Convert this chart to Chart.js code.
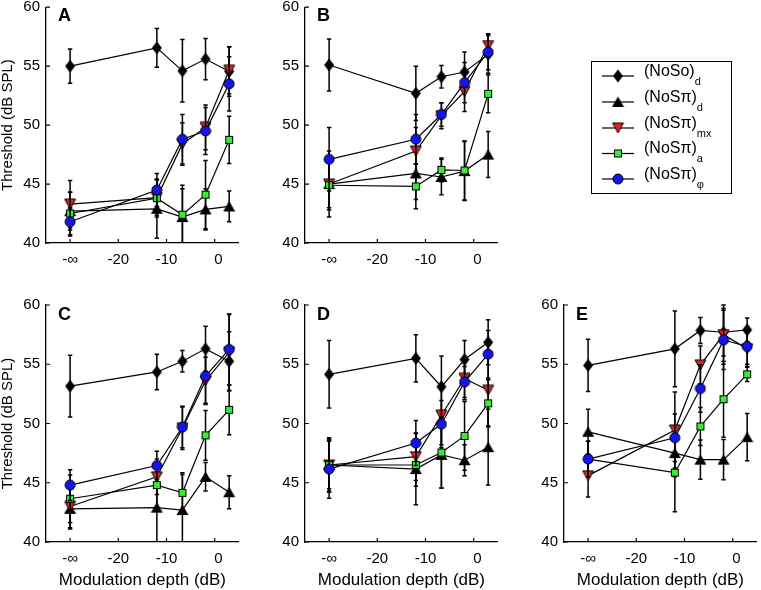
<!DOCTYPE html>
<html>
<head>
<meta charset="utf-8">
<script src="https://cdn.jsdelivr.net/npm/chart.js"></script>
<style>
html, body { margin:0; padding:0; background:#fff; width:761px; height:590px; overflow:hidden; }
body { position:relative; font-family:"Liberation Sans", Arial, Helvetica, sans-serif; }
canvas.panel { position:absolute; }
#legend { position:absolute; left:591px; top:61px; width:139px; height:131px; border:1px solid #000; box-sizing:content-box; }
#legendSym { position:absolute; left:0; top:0; }
.lt { position:absolute; left:52px; font-size:16px; line-height:16px; white-space:nowrap; color:#000; }
.lt sub { font-size:11px; vertical-align:-9px; line-height:0; }
</style>
</head>
<body>
<canvas id="pA" class="panel" width="246" height="290" style="left:0px;top:0px"></canvas>
<canvas id="pB" class="panel" width="246" height="290" style="left:259px;top:0px"></canvas>
<canvas id="pC" class="panel" width="246" height="300" style="left:0px;top:290px"></canvas>
<canvas id="pD" class="panel" width="246" height="300" style="left:259px;top:290px"></canvas>
<canvas id="pE" class="panel" width="246" height="300" style="left:518px;top:290px"></canvas>
<div id="legend">
  <canvas id="legendSym" width="60" height="131"></canvas>
  <div class="lt" style="top:1px">(NoSo)<sub>d</sub></div>
  <div class="lt" style="top:27px">(NoSπ)<sub>d</sub></div>
  <div class="lt" style="top:53px">(NoSπ)<sub>mx</sub></div>
  <div class="lt" style="top:78px">(NoSπ)<sub>a</sub></div>
  <div class="lt" style="top:104px">(NoSπ)<sub>φ</sub></div>
</div>
<script>
// ---------- data ----------
const xDepths = [-30, -12, -6.7, -1.9, 3.0];      // plotted positions (-∞ shown at -30)
const xTickValues = [-30, -20, -10, 0];
const xTickLabels = ['-\u221E', '-20', '-10', '\u20020'];
const yTickValues = [40, 45, 50, 55, 60];
const seriesNames = ['(NoSo)d', '(NoS\u03C0)d', '(NoS\u03C0)mx', '(NoS\u03C0)a', '(NoS\u03C0)\u03C6'];

// Panel A
const A_NoSo_d      = [55.0, 56.55, 54.6, 55.6, 54.55];
const A_NoSo_d_err  = [1.45, 1.65, 2.65, 1.75, 2.1];
const A_NoSpi_d     = [42.7, 42.9, 42.2, 42.85, 43.1];
const A_NoSpi_d_err = [1.6, 2.5, 2.4, 1.75, 1.3];
const A_NoSpi_mx    = [43.3, 43.85, 48.4, 49.8, 54.65];
const A_NoSpi_mx_err= [2.0, 1.5, 1.8, 1.9, 2.0];
const A_NoSpi_a     = [42.5, 43.8, 42.4, 44.1, 48.75];
const A_NoSpi_a_err = [1.8, 1.6, 2.5, 2.9, 2.0];
const A_NoSpi_phi   = [41.8, 44.5, 48.8, 49.5, 53.5];
const A_NoSpi_phi_err=[1.2, 1.4, 2.1, 2.0, 2.3];
// Panel B
const B_NoSo_d      = [55.1, 52.7, 54.1, 54.5, 56.0];
const B_NoSo_d_err  = [2.2, 2.3, 0.95, 1.7, 1.6];
const B_NoSpi_d     = [45.0, 45.9, 45.6, 46.1, 47.5];
const B_NoSpi_d_err = [2.8, 2.2, 1.5, 2.5, 1.95];
const B_NoSpi_mx    = [45.0, 47.8, 50.8, 52.85, 56.75];
const B_NoSpi_mx_err= [2.0, 2.0, 1.1, 1.7, 1.0];
const B_NoSpi_a     = [44.9, 44.8, 46.2, 46.15, 52.65];
const B_NoSpi_a_err = [2.1, 1.9, 1.0, 2.5, 1.6];
const B_NoSpi_phi   = [47.1, 48.8, 50.9, 53.6, 56.2];
const B_NoSpi_phi_err=[2.7, 2.1, 1.0, 1.7, 1.5];
// Panel C
const C_NoSo_d      = [53.15, 54.35, 55.25, 56.3, 55.25];
const C_NoSo_d_err  = [2.6, 1.5, 0.9, 1.9, 2.5];
const C_NoSpi_d     = [42.8, 42.9, 42.7, 45.5, 44.2];
const C_NoSpi_d_err = [1.7, 3.0, 3.0, 1.2, 1.4];
const C_NoSpi_mx    = [43.0, 45.5, 49.6, 53.6, 56.0];
const C_NoSpi_mx_err= [1.8, 1.5, 1.8, 2.0, 3.2];
const C_NoSpi_a     = [43.65, 44.8, 44.15, 49.0, 51.15];
const C_NoSpi_a_err = [2.0, 1.8, 1.7, 2.1, 2.1];
const C_NoSpi_phi   = [44.8, 46.45, 49.7, 54.0, 56.25];
const C_NoSpi_phi_err=[1.3, 1.2, 1.75, 2.3, 3.0];
// Panel D
const D_NoSo_d      = [54.15, 55.5, 53.1, 55.4, 56.85];
const D_NoSo_d_err  = [2.85, 2.0, 2.6, 1.6, 1.9];
const D_NoSpi_d     = [46.5, 46.15, 47.35, 46.9, 48.0];
const D_NoSpi_d_err = [2.2, 3.0, 2.8, 1.3, 3.2];
const D_NoSpi_mx    = [46.5, 47.2, 50.7, 53.8, 52.8];
const D_NoSpi_mx_err= [2.0, 2.0, 2.5, 1.8, 3.0];
const D_NoSpi_a     = [46.5, 46.5, 47.55, 48.95, 51.7];
const D_NoSpi_a_err = [2.3, 1.8, 3.0, 2.9, 2.0];
const D_NoSpi_phi   = [46.15, 48.35, 49.95, 53.5, 55.85];
const D_NoSpi_phi_err=[2.45, 1.9, 2.0, 1.3, 2.0];
// Panel E
const E_NoSo_d      = [54.9, 56.3, 57.85, 57.7, 57.9];
const E_NoSo_d_err  = [2.2, 3.2, 1.1, 2.0, 1.0];
const E_NoSpi_d     = [49.3, 47.5, 46.95, 46.95, 48.85];
const E_NoSpi_d_err = [1.9, 2.0, 1.65, 1.7, 2.0];
const E_NoSpi_mx    = [45.6, 49.45, 54.95, 57.5, 56.3];
const E_NoSpi_mx_err= [1.8, 3.2, 1.6, 2.5, 1.5];
const E_NoSpi_a     = [47.0, 45.85, 49.75, 52.05, 54.15];
const E_NoSpi_a_err = [1.5, 3.3, 1.6, 3.2, 0.6];
const E_NoSpi_phi   = [47.0, 48.8, 52.95, 57.05, 56.5];
const E_NoSpi_phi_err=[1.5, 2.0, 2.0, 2.5, 1.5];

// ---------- styling ----------
const FONT = '"Liberation Sans", Arial, Helvetica, sans-serif';
const RED = '#dc2424', GREEN = '#33ee33', BLUE = '#1414ee';

function mk(w, h, draw) {
  const c = document.createElement('canvas'); c.width = w; c.height = h;
  draw(c.getContext('2d')); return c;
}
const markers = [
  mk(12, 15, g => { g.beginPath(); g.moveTo(6,1); g.lineTo(11,7.5); g.lineTo(6,14); g.lineTo(1,7.5); g.closePath(); g.fillStyle='#000'; g.fill(); }),
  mk(13, 12, g => { g.beginPath(); g.moveTo(6.5,0.5); g.lineTo(12.5,11); g.lineTo(0.5,11); g.closePath(); g.fillStyle='#000'; g.fill(); }),
  mk(13, 12, g => { g.beginPath(); g.moveTo(1,1); g.lineTo(12,1); g.lineTo(6.5,11); g.closePath(); g.fillStyle=RED; g.fill(); g.lineWidth=1; g.strokeStyle='#000'; g.stroke(); }),
  mk(10, 10, g => { g.fillStyle=GREEN; g.fillRect(1,1,8,8); g.lineWidth=1; g.strokeStyle='#000'; g.strokeRect(1.5,1.5,7,7); }),
  mk(12, 12, g => { g.beginPath(); g.arc(6,6,5,0,Math.PI*2); g.fillStyle=BLUE; g.fill(); g.lineWidth=1; g.strokeStyle='#000'; g.stroke(); })
];

const panels = [
  { id:'pA', letter:'A', padTop:5,  xh:47, yTitle:true,  xTitle:false, letterY:21,
    vals:[A_NoSo_d, A_NoSpi_d, A_NoSpi_mx, A_NoSpi_a, A_NoSpi_phi],
    errs:[A_NoSo_d_err, A_NoSpi_d_err, A_NoSpi_mx_err, A_NoSpi_a_err, A_NoSpi_phi_err] },
  { id:'pB', letter:'B', padTop:5,  xh:47, yTitle:false, xTitle:false, letterY:21,
    vals:[B_NoSo_d, B_NoSpi_d, B_NoSpi_mx, B_NoSpi_a, B_NoSpi_phi],
    errs:[B_NoSo_d_err, B_NoSpi_d_err, B_NoSpi_mx_err, B_NoSpi_a_err, B_NoSpi_phi_err] },
  { id:'pC', letter:'C', padTop:15, xh:48, yTitle:true,  xTitle:true, letterY:29.5,
    vals:[C_NoSo_d, C_NoSpi_d, C_NoSpi_mx, C_NoSpi_a, C_NoSpi_phi],
    errs:[C_NoSo_d_err, C_NoSpi_d_err, C_NoSpi_mx_err, C_NoSpi_a_err, C_NoSpi_phi_err] },
  { id:'pD', letter:'D', padTop:15, xh:48, yTitle:false, xTitle:true, letterY:29.5,
    vals:[D_NoSo_d, D_NoSpi_d, D_NoSpi_mx, D_NoSpi_a, D_NoSpi_phi],
    errs:[D_NoSo_d_err, D_NoSpi_d_err, D_NoSpi_mx_err, D_NoSpi_a_err, D_NoSpi_phi_err] },
  { id:'pE', letter:'E', padTop:15, xh:48, yTitle:false, xTitle:true, letterY:29.5,
    vals:[E_NoSo_d, E_NoSpi_d, E_NoSpi_mx, E_NoSpi_a, E_NoSpi_phi],
    errs:[E_NoSo_d_err, E_NoSpi_d_err, E_NoSpi_mx_err, E_NoSpi_a_err, E_NoSpi_phi_err] }
];

const errorBarPlugin = {
  id: 'errbars',
  beforeDatasetDraw(chart, args) {
    const ds = chart.data.datasets[args.index];
    if (!ds.errors) return;
    const ctx = chart.ctx, ys = chart.scales.y, ca = chart.chartArea;
    ctx.save();
    ctx.strokeStyle = '#000'; ctx.lineWidth = 1.5;
    args.meta.data.forEach((pt, i) => {
      const v = ds.data[i].y, e = ds.errors[i];
      const yTop = Math.max(ys.getPixelForValue(v + e), ca.top);
      const yBot = Math.min(ys.getPixelForValue(v - e), ca.bottom);
      ctx.beginPath();
      ctx.moveTo(pt.x, yTop); ctx.lineTo(pt.x, yBot);
      if (ys.getPixelForValue(v + e) >= ca.top) { ctx.moveTo(pt.x - 2.2, yTop); ctx.lineTo(pt.x + 2.2, yTop); }
      if (ys.getPixelForValue(v - e) <= ca.bottom) { ctx.moveTo(pt.x - 2.2, yBot); ctx.lineTo(pt.x + 2.2, yBot); }
      ctx.stroke();
    });
    ctx.restore();
  }
};

const decorPlugin = {
  id: 'decor',
  afterDraw(chart, args, opts) {
    const ctx = chart.ctx, xs = chart.scales.x, ys = chart.scales.y, ca = chart.chartArea;
    ctx.save();
    ctx.strokeStyle = '#000'; ctx.lineWidth = 1.2;
    ctx.beginPath();
    xTickValues.forEach(v => { const x = xs.getPixelForValue(v); ctx.moveTo(x, ca.bottom); ctx.lineTo(x, ca.bottom - 4); });
    yTickValues.forEach(v => { const y = ys.getPixelForValue(v); ctx.moveTo(ca.left, y); ctx.lineTo(ca.left + 4, y); });
    ctx.stroke();
    ctx.fillStyle = '#000';
    ctx.font = 'bold 18px ' + FONT;
    ctx.textBaseline = 'alphabetic';
    ctx.fillText(opts.letter, ca.left + 12, opts.letterY);
    ctx.restore();
  }
};

panels.forEach(p => {
  const order = [5, 4, 3, 2, 1];
  const datasets = p.vals.map((arr, s) => ({
    label: seriesNames[s],
    data: xDepths.map((x, i) => ({ x: x, y: arr[i] })),
    errors: p.errs[s],
    borderColor: '#000', borderWidth: 1.2, tension: 0,
    pointStyle: markers[s], pointRadius: 6, pointHoverRadius: 6,
    showLine: true, fill: false, clip: false, order: order[s]
  }));
  new Chart(document.getElementById(p.id), {
    type: 'line',
    data: { datasets },
    plugins: [errorBarPlugin, decorPlugin],
    options: {
      responsive: false, animation: false, devicePixelRatio: 1, events: [],
      layout: { padding: { top: p.padTop, right: 4, left: 0, bottom: 0 } },
      plugins: { legend: { display: false }, tooltip: { enabled: false }, decor: { letter: p.letter, letterY: p.letterY } },
      scales: {
        x: {
          type: 'linear', min: -35, max: 5,
          afterBuildTicks(s) { s.ticks = xTickValues.map(v => ({ value: v })); },
          ticks: { callback: v => xTickLabels[xTickValues.indexOf(v)], color: '#000', font: { family: FONT, size: 15 }, padding: 8, maxRotation: 0, autoSkip: false },
          grid: { display: true, drawOnChartArea: false, drawTicks: false },
          border: { display: true, color: '#000', width: 1.3 },
          title: { display: p.xTitle, text: 'Modulation depth (dB)', color: '#000', font: { family: FONT, size: 17, lineHeight: 1.1 }, padding: 0 },
          afterFit(s) { s.height = p.xh; s.paddingLeft = 0; s.paddingRight = 0; }
        },
        y: {
          type: 'linear', min: 40, max: 60,
          afterBuildTicks(s) { s.ticks = yTickValues.map(v => ({ value: v })); },
          ticks: { color: '#000', font: { family: FONT, size: 15 }, padding: 6 },
          grid: { display: true, drawOnChartArea: false, drawTicks: false },
          border: { display: true, color: '#000', width: 1.3 },
          title: { display: p.yTitle, text: 'Threshold (dB SPL)', color: '#000', font: { family: FONT, size: 15, lineHeight: 1 }, padding: 0 },
          afterFit(s) { s.width = 46; s.paddingTop = 0; s.paddingBottom = 0; }
        }
      }
    }
  });
});

// legend symbols
(function () {
  const c = document.getElementById('legendSym'), g = c.getContext('2d');
  const rows = [14, 40, 66, 91.5, 117];
  rows.forEach((y, s) => {
    g.strokeStyle = '#000'; g.lineWidth = 1.2;
    g.beginPath(); g.moveTo(10, y); g.lineTo(42, y); g.stroke();
    const m = markers[s];
    g.drawImage(m, 26 - m.width / 2, y - m.height / 2);
  });
})();
</script>
</body>
</html>
